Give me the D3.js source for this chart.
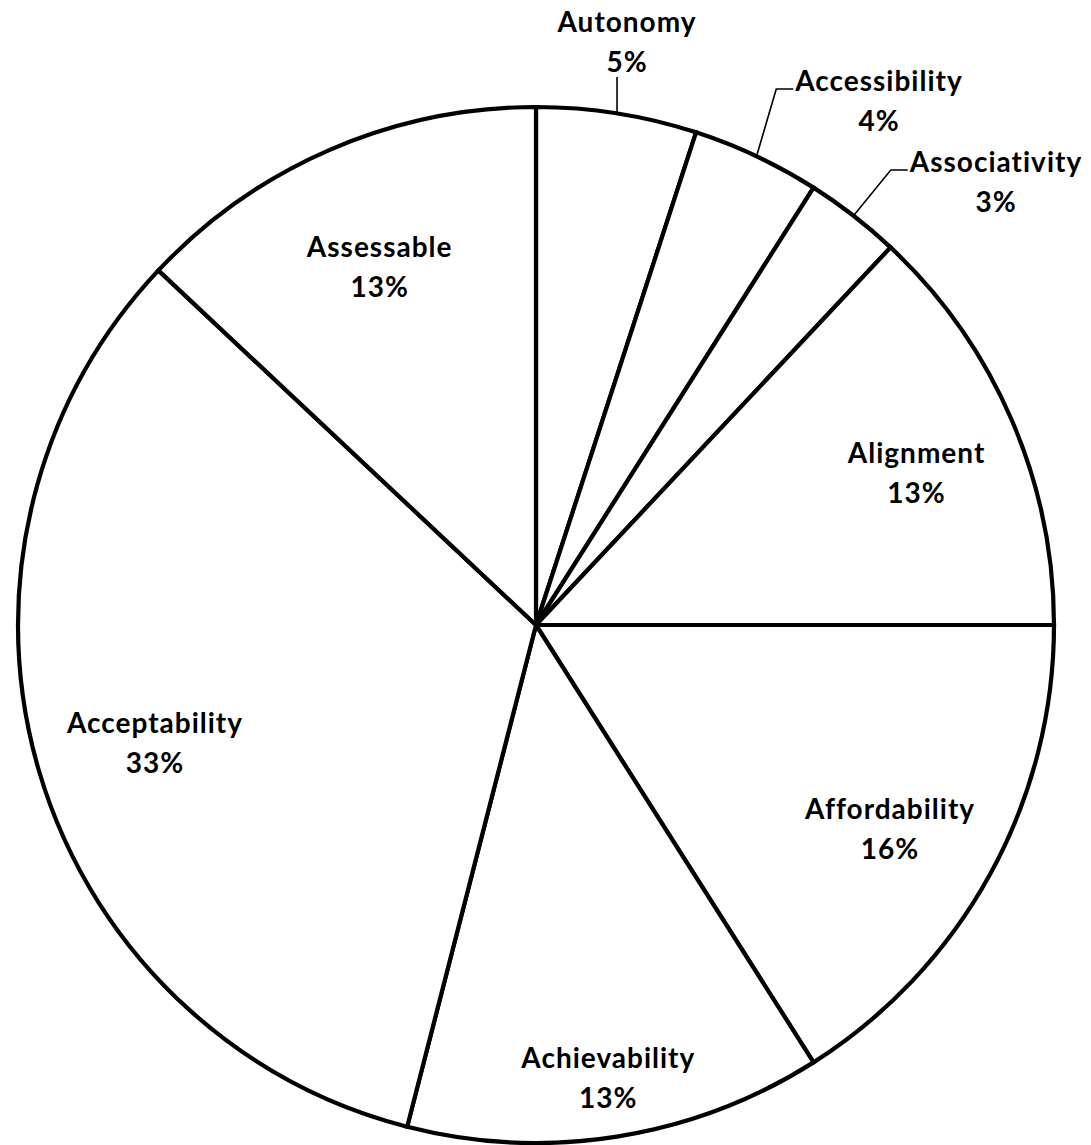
<!DOCTYPE html>
<html>
<head>
<meta charset="utf-8">
<script src="https://cdn.jsdelivr.net/npm/d3@7"></script>
<style>
  html, body { margin: 0; padding: 0; background: #fff; }
  svg { display: block; }
  text { font-family: Lato, "Open Sans", sans-serif; font-weight: bold; fill: #000; }
</style>
</head>
<body>
<svg id="chart" width="1091" height="1145"></svg>
<script>
// Share of each criterion (percent), clockwise from 12 o'clock
const categories = ["Autonomy", "Accessibility", "Associativity", "Alignment",
                    "Affordability", "Achievability", "Acceptability", "Assessable"];
const values = [5, 4, 3, 13, 16, 13, 33, 13];

// Label placement: inside labels sit on a fraction of the radius at the slice's mid-angle
// (plus a small nudge); outside labels sit at an offset from the centre with a leader line.
const labelRadius = [null, null, null, 0.79, 0.78, 0.88, 0.77, 0.76];
const labelNudge = [[0, 0], [0, 0], [0, 0], [5, 10], [0, 8], [1, 2], [2, 6], [0, 2]];
const outsideOffset = [[91, -584], [343, -525], [460, -444], null, null, null, null, null];

const cx = 536, cy = 625, R = 518;
const fontSize = 28, lineGap = 40;

const svg = d3.select("#chart");
const g = svg.append("g").attr("transform", `translate(${cx},${cy})`);

const data = categories.map((c, i) => ({ name: c, value: values[i], i }));
const pie = d3.pie().sort(null).value(d => d.value);
const arcs = pie(data);
const arc = d3.arc().innerRadius(0).outerRadius(R);

g.selectAll("path.slice")
  .data(arcs)
  .join("path")
  .attr("class", "slice")
  .attr("d", arc)
  .attr("fill", "#fff")
  .attr("stroke", "#000")
  .attr("stroke-width", 4.2)
  .attr("stroke-linejoin", "miter");

function labelPos(a) {
  const i = a.data.i;
  if (outsideOffset[i]) return outsideOffset[i];
  const mid = (a.startAngle + a.endAngle) / 2;
  const r = R * labelRadius[i];
  return [r * Math.sin(mid) + labelNudge[i][0], -r * Math.cos(mid) + labelNudge[i][1]];
}

const leaders = g.append("g");

const labels = g.selectAll("g.label")
  .data(arcs)
  .join("g")
  .attr("class", "label")
  .attr("transform", a => `translate(${labelPos(a)})`);

labels.append("text")
  .attr("class", "name")
  .attr("text-anchor", "middle")
  .attr("dominant-baseline", "central")
  .attr("y", -lineGap / 2)
  .style("font-size", fontSize + "px")
  .style("letter-spacing", "1px")
  .text(a => a.data.name);

labels.append("text")
  .attr("text-anchor", "middle")
  .attr("dominant-baseline", "central")
  .attr("y", lineGap / 2)
  .style("font-size", fontSize + "px")
  .style("letter-spacing", "1px")
  .text(a => a.data.value + "%");

// Leader lines for the thin slices whose labels sit outside the pie
labels.filter(a => outsideOffset[a.data.i]).each(function (a) {
  const mid = (a.startAngle + a.endAngle) / 2;
  const ex = R * Math.sin(mid), ey = -R * Math.cos(mid);
  const [lx, ly] = labelPos(a);
  let pts;
  if (a.data.i === 0) {
    pts = [[ex, ey], [ex, ly + lineGap / 2 + 16]];
  } else {
    const textW = d3.select(this).select("text.name").node().getComputedTextLength();
    const hx = lx - textW / 2 - 2;
    const hy = ly - lineGap / 2 + 9;
    pts = [[ex, ey], [hx - 17, hy], [hx, hy]];
  }
  leaders.append("path")
    .attr("d", d3.line()(pts))
    .attr("fill", "none")
    .attr("stroke", "#000")
    .attr("stroke-width", 1.6);
});
</script>
</body>
</html>
